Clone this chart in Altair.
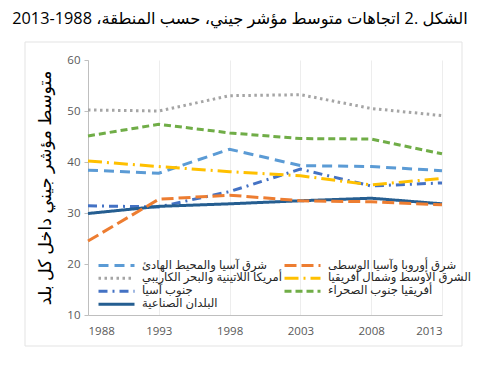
import altair as alt
import pandas as pd

years = [1988, 1993, 1998, 2003, 2008, 2013]
series_names = [
    "شرق آسيا والمحيط الهادئ",
    "أمريكا اللاتينية والبحر الكاريبي",
    "جنوب آسيا",
    "البلدان الصناعية",
    "شرق أوروبا وآسيا الوسطى",
    "الشرق الأوسط وشمال أفريقيا",
    "أفريقيا جنوب الصحراء",
]
eap = [38.4, 37.8, 42.5, 39.3, 39.1, 38.3]
lac = [50.2, 50.0, 53.0, 53.2, 50.5, 49.1]
sa = [31.4, 31.2, 34.2, 38.6, 35.3, 35.9]
ind = [29.9, 31.3, 31.8, 32.4, 32.9, 31.8]
eca = [24.5, 32.7, 33.5, 32.4, 32.2, 31.6]
mena = [40.2, 39.1, 38.1, 37.3, 35.5, 36.8]
ssa = [45.1, 47.4, 45.7, 44.6, 44.5, 41.6]
all_values = [eap, lac, sa, ind, eca, mena, ssa]

colors = ["#5B9BD5", "#A5A5A5", "#4472C4", "#255E91", "#ED7D31", "#FFC000", "#70AD47"]
dashes = [[10, 6], [2.5, 3.5], [9, 5, 2, 5], [1, 0], [12, 5], [14, 5, 2, 5], [7, 4]]

title_text = "\u202bالشكل .2 اتجاهات متوسط مؤشر جيني، حسب المنطقة، 1988-2013\u202c"
y_title = "\u202bمتوسط مؤشر جيني داخل كل بلد\u202c"

rows = []
for name, vals in zip(series_names, all_values):
    for yr, v in zip(years, vals):
        rows.append({"year": yr, "value": v, "series": name})
df = pd.DataFrame(rows)

FONT = "Open Sans, DejaVu Sans"


def make_legend():
    return alt.Legend(title=None, orient="none", legendX=9, legendY=199,
                      columns=2, symbolType="stroke", symbolSize=1296,
                      symbolStrokeWidth=3, clipHeight=12.7,
                      labelFontSize=11.6, labelFont=FONT,
                      labelColor="#262626", labelOffset=6,
                      columnPadding=0, rowPadding=0, padding=0,
                      labelLimit=300)


frame = alt.Chart(pd.DataFrame({"k": [0]})).mark_rect(
    fill=None, stroke="#E3E3E3", strokeWidth=1
).encode(
    x=alt.value(-63), x2=alt.value(374), y=alt.value(-18), y2=alt.value(286)
)

lines = alt.Chart(df).mark_line(strokeWidth=3).encode(
    x=alt.X("year:Q", scale=alt.Scale(domain=[1988, 2013], nice=False, zero=False),
            axis=alt.Axis(values=years, format="d", title=None, ticks=False,
                          grid=True, gridColor="#EDEDED", domainColor="#BFBFBF",
                          labelColor="#595959", labelFontSize=11.5, labelPadding=10,
                          labelFont=FONT)),
    y=alt.Y("value:Q", scale=alt.Scale(domain=[10, 60], nice=False, zero=False),
            axis=alt.Axis(values=[10, 20, 30, 40, 50, 60], title=y_title, grid=False,
                          tickSize=4, tickColor="#BFBFBF", domainColor="#BFBFBF",
                          labelColor="#595959", labelFontSize=11.5, labelPadding=4,
                          labelFont=FONT, titleFont=FONT, titleFontSize=17.5,
                          titleFontWeight="normal", titleColor="#000000",
                          titlePadding=12)),
    color=alt.Color("series:N", scale=alt.Scale(domain=series_names, range=colors),
                    legend=make_legend()),
    strokeDash=alt.StrokeDash("series:N", scale=alt.Scale(domain=series_names, range=dashes),
                              legend=make_legend()),
)

chart = alt.layer(frame, lines).properties(
    width=354,
    height=255,
    title=alt.TitleParams(title_text, font=FONT, fontSize=16.3, fontWeight="normal",
                          color="#000000", anchor="middle", dx=-25, offset=14),
    autosize=alt.AutoSizeParams(type="none"),
    padding={"left": 80, "top": 52, "right": 30, "bottom": 40},
).configure_view(stroke=None)

chart.save("out.html", embed_options={"renderer": "svg", "actions": False})
